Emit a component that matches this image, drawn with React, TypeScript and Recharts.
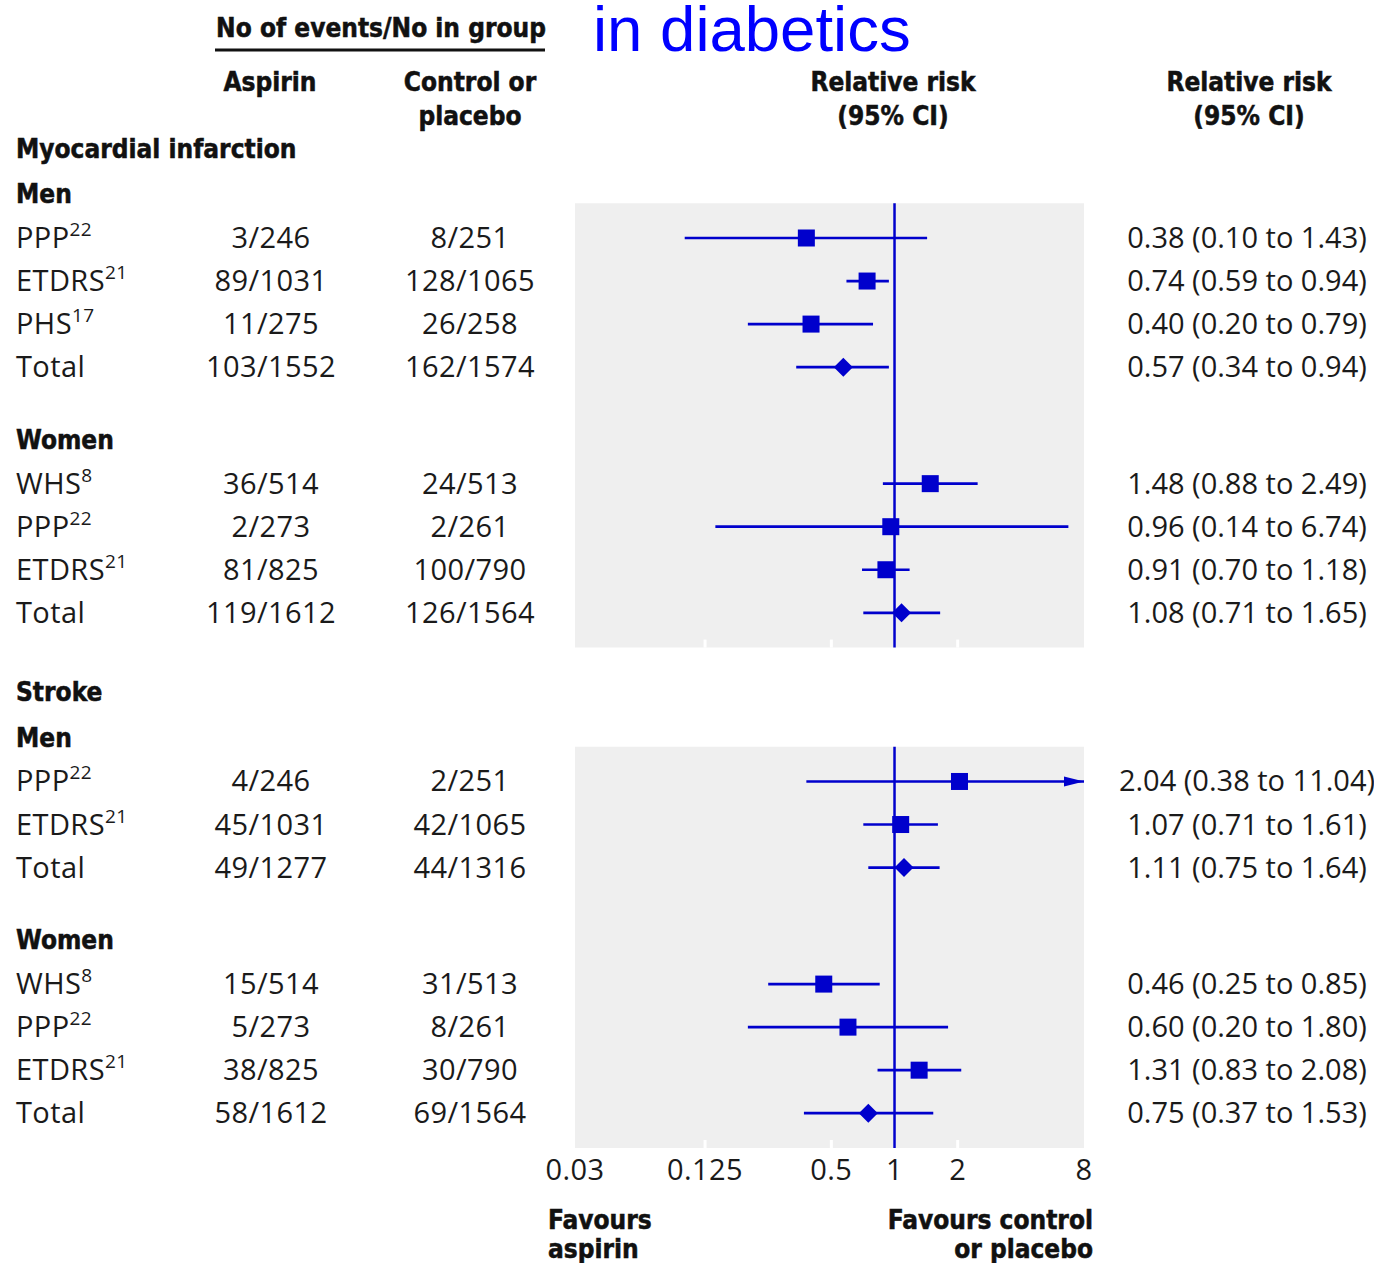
import React from 'react';
import { ComposedChart, XAxis, YAxis, Scatter, ReferenceArea, ReferenceLine } from 'recharts';

// ---------- data ----------
const sectionTitles = ['Myocardial infarction', 'Stroke'];
const subgroupTitles = ['Men', 'Women'];
const studyNames = ['PPP', 'ETDRS', 'PHS', 'Total', 'WHS', 'PPP', 'ETDRS', 'Total', 'PPP', 'ETDRS', 'Total', 'WHS', 'PPP', 'ETDRS', 'Total'];
const studyRefs = ['22', '21', '17', '', '8', '22', '21', '', '22', '21', '', '8', '22', '21', ''];
const studySection = [0, 0, 0, 0, 0, 0, 0, 0, 1, 1, 1, 1, 1, 1, 1];
const studySubgroup = [0, 0, 0, 0, 1, 1, 1, 1, 0, 0, 0, 1, 1, 1, 1];
const aspirinEvents = ['3/246', '89/1031', '11/275', '103/1552', '36/514', '2/273', '81/825', '119/1612', '4/246', '45/1031', '49/1277', '15/514', '5/273', '38/825', '58/1612'];
const controlEvents = ['8/251', '128/1065', '26/258', '162/1574', '24/513', '2/261', '100/790', '126/1564', '2/251', '42/1065', '44/1316', '31/513', '8/261', '30/790', '69/1564'];
const relativeRisk = [0.38, 0.74, 0.40, 0.57, 1.48, 0.96, 0.91, 1.08, 2.04, 1.07, 1.11, 0.46, 0.60, 1.31, 0.75];
const lowerCI = [0.10, 0.59, 0.20, 0.34, 0.88, 0.14, 0.70, 0.71, 0.38, 0.71, 0.75, 0.25, 0.20, 0.83, 0.37];
const upperCI = [1.43, 0.94, 0.79, 0.94, 2.49, 6.74, 1.18, 1.65, 11.04, 1.61, 1.64, 0.85, 1.80, 2.08, 1.53];
const xTicks = [0.03, 0.125, 0.5, 1, 2, 8];
const xDomain = [0.03, 8];

// ---------- layout ----------
const W = 1374;
const H = 1263;
const BLUE = '#0000cc';
const TEXT = '#1a1a1a';
const BOLD_COLOR = '#111';
const BODY_FONT = "'Open Sans', 'DejaVu Sans', sans-serif";
const BOLD_FONT = "'DejaVu Sans Condensed', 'DejaVu Sans', sans-serif";
const BODY_SIZE = 29;
const BODY_SPACING = 0.4;
const BOLD_SIZE = 26;

const STEP_SECTION_SUB = 1.04;
const STEP_SUB_ROW = 1.03;
const STEP_ROW = 0.99;
const STEP_GROUP_SUB = 1.65;
const STEP_GROUP_SECTION = 1.81;
const PANEL_PAD = 0.8;

type Row = { kind: 'section' | 'sub' | 'study'; label: string; y: number; idx: number };
const rows: Row[] = [];
const panels: { top: number; bottom: number }[] = [];
(() => {
  let last = 0;
  let prevSec = -1;
  let prevSub = -1;
  for (let i = 0; i < studyNames.length; i++) {
    const s = studySection[i];
    const g = studySubgroup[i];
    if (s !== prevSec) {
      const ys = prevSec < 0 ? 0 : last + STEP_GROUP_SECTION;
      rows.push({ kind: 'section', label: sectionTitles[s], y: ys, idx: -1 });
      const yg = ys + STEP_SECTION_SUB;
      rows.push({ kind: 'sub', label: subgroupTitles[g], y: yg, idx: -1 });
      last = yg + STEP_SUB_ROW - STEP_ROW;
      panels.push({ top: yg + STEP_SUB_ROW - PANEL_PAD, bottom: 0 });
      prevSec = s;
      prevSub = g;
    } else if (g !== prevSub) {
      const yg = last + STEP_GROUP_SUB;
      rows.push({ kind: 'sub', label: subgroupTitles[g], y: yg, idx: -1 });
      last = yg + STEP_SUB_ROW - STEP_ROW;
      prevSub = g;
    }
    const y = last + STEP_ROW;
    rows.push({ kind: 'study', label: studyNames[i], y, idx: i });
    panels[panels.length - 1].bottom = y + PANEL_PAD;
    last = y;
  }
})();

const Y0_PX = 148;
const PLOT_BOTTOM_PX = 1148;
const X_AXIS_H = 30;
const Y_MAX = panels[panels.length - 1].bottom;
const Y_MIN = -2;
const UNIT = (PLOT_BOTTOM_PX - Y0_PX) / Y_MAX;
const TOP_MARGIN = Y0_PX + Y_MIN * UNIT;
const TICK_MARK = 8 / UNIT;

const studyRows = rows.filter((r) => r.kind === 'study');
const squarePoints = studyRows
  .filter((r) => studyNames[r.idx] !== 'Total')
  .map((r) => ({ rr: relativeRisk[r.idx], y: r.y }));
const diamondPoints = studyRows
  .filter((r) => studyNames[r.idx] === 'Total')
  .map((r) => ({ rr: relativeRisk[r.idx], y: r.y }));
const arrowPoints = studyRows
  .filter((r) => upperCI[r.idx] > xDomain[1])
  .map((r) => ({ rr: xDomain[1], y: r.y }));

const fmt = (v: number) => v.toFixed(2);

const findRow = (v: number) => rows.find((r) => Math.abs(r.y - v) < 1e-6);

const bodyProps = {
  fontFamily: BODY_FONT,
  fontSize: BODY_SIZE,
  fill: TEXT,
  letterSpacing: BODY_SPACING,
};

const boldProps = {
  fontFamily: BOLD_FONT,
  fontWeight: 'bold' as const,
  fontSize: BOLD_SIZE,
  fill: BOLD_COLOR,
  stroke: BOLD_COLOR,
  strokeWidth: 0.5,
  style: { fontStretch: 'condensed' as const },
};

const LeftTick = (props: any) => {
  const row = findRow(props.payload?.value);
  if (!row) return null;
  const by = props.y + 10;
  if (row.kind !== 'study') {
    return (
      <text x={16} y={by} {...boldProps}>
        {row.label}
      </text>
    );
  }
  const i = row.idx;
  return (
    <g>
      <text x={16} y={by} {...bodyProps}>
        {studyNames[i]}
        {studyRefs[i] ? (
          <tspan dy={-12} fontSize={19}>
            {studyRefs[i]}
          </tspan>
        ) : null}
      </text>
      <text x={271} y={by} textAnchor="middle" {...bodyProps}>
        {aspirinEvents[i]}
      </text>
      <text x={470} y={by} textAnchor="middle" {...bodyProps}>
        {controlEvents[i]}
      </text>
    </g>
  );
};

const RightTick = (props: any) => {
  const row = findRow(props.payload?.value);
  if (!row || row.kind !== 'study') return null;
  const i = row.idx;
  return (
    <text x={1247} y={props.y + 10} textAnchor="middle" {...bodyProps} letterSpacing={0}>
      {`${fmt(relativeRisk[i])} (${fmt(lowerCI[i])} to ${fmt(upperCI[i])})`}
    </text>
  );
};

const XTick = (props: any) => (
  <text x={props.x} y={PLOT_BOTTOM_PX + 32} textAnchor="middle" {...bodyProps}>
    {String(props.payload.value)}
  </text>
);

const Square = (props: any) => (
  <rect x={props.cx - 8.5} y={props.cy - 8.5} width={17} height={17} fill={BLUE} />
);
const Diamond = (props: any) => (
  <polygon
    points={`${props.cx - 9.5},${props.cy} ${props.cx},${props.cy - 9.5} ${props.cx + 9.5},${props.cy} ${props.cx},${props.cy + 9.5}`}
    fill={BLUE}
  />
);
const Arrow = (props: any) => (
  <polygon
    points={`${props.cx},${props.cy} ${props.cx - 20},${props.cy - 5} ${props.cx - 20},${props.cy + 5}`}
    fill={BLUE}
  />
);

const boldText = (x: number, y: number, s: string, anchor: 'start' | 'middle' | 'end' = 'middle') => (
  <text x={x} y={y} textAnchor={anchor} {...boldProps}>
    {s}
  </text>
);

export default function App() {
  const labelTicks = rows.map((r) => r.y);
  const rrTicks = studyRows.map((r) => r.y);
  return (
    <div style={{ position: 'absolute', left: 0, top: 0, width: W, height: H, background: '#fff' }}>
      <ComposedChart
        width={W}
        height={H}
        margin={{ top: TOP_MARGIN, right: 0, bottom: H - PLOT_BOTTOM_PX - X_AXIS_H, left: 0 }}
      >
        <XAxis
          type="number"
          dataKey="rr"
          scale="log"
          domain={xDomain}
          ticks={xTicks}
          interval={0}
          height={X_AXIS_H}
          allowDataOverflow
          axisLine={false}
          tickLine={false}
          tick={XTick}
        />
        <YAxis
          yAxisId="left"
          type="number"
          dataKey="y"
          domain={[Y_MIN, Y_MAX]}
          reversed
          allowDataOverflow
          ticks={labelTicks}
          interval={0}
          width={575}
          axisLine={false}
          tickLine={false}
          tick={LeftTick}
        />
        <YAxis
          yAxisId="right"
          orientation="right"
          type="number"
          dataKey="y"
          domain={[Y_MIN, Y_MAX]}
          reversed
          allowDataOverflow
          ticks={rrTicks}
          interval={0}
          width={W - 1084}
          axisLine={false}
          tickLine={false}
          tick={RightTick}
        />
        {panels.map((p, k) => (
          <ReferenceArea
            key={`bg${k}`}
            yAxisId="left"
            x1={xDomain[0]}
            x2={xDomain[1]}
            y1={p.top}
            y2={p.bottom}
            fill="#efefef"
            fillOpacity={1}
            stroke="none"
            ifOverflow="visible"
          />
        ))}
        {panels.flatMap((p, k) =>
          xTicks.slice(1, -1).map((t) => (
            <ReferenceLine
              key={`tm${k}-${t}`}
              yAxisId="left"
              segment={[
                { x: t, y: p.bottom - TICK_MARK },
                { x: t, y: p.bottom },
              ]}
              stroke="#ffffff"
              strokeWidth={3}
              ifOverflow="visible"
            />
          ))
        )}
        {panels.map((p, k) => (
          <ReferenceLine
            key={`one${k}`}
            yAxisId="left"
            segment={[
              { x: 1, y: p.top },
              { x: 1, y: p.bottom },
            ]}
            stroke={BLUE}
            strokeWidth={2.5}
            ifOverflow="visible"
          />
        ))}
        {studyRows.map((r) => (
          <ReferenceLine
            key={`ci${r.idx}`}
            yAxisId="left"
            segment={[
              { x: lowerCI[r.idx], y: r.y },
              { x: Math.min(upperCI[r.idx], xDomain[1]), y: r.y },
            ]}
            stroke={BLUE}
            strokeWidth={2.7}
            ifOverflow="visible"
          />
        ))}
        <Scatter yAxisId="left" data={squarePoints} dataKey="y" shape={Square} isAnimationActive={false} />
        <Scatter yAxisId="left" data={diamondPoints} dataKey="y" shape={Diamond} isAnimationActive={false} />
        <Scatter yAxisId="left" data={arrowPoints} dataKey="y" shape={Arrow} isAnimationActive={false} />
      </ComposedChart>
      <svg width={W} height={H} style={{ position: 'absolute', left: 0, top: 0, pointerEvents: 'none' }}>
        <text x={593} y={51} fontFamily="'Liberation Sans', Arial, sans-serif" fontSize={63.5} fill="#0000ff">
          in diabetics
        </text>
        {boldText(381, 37, 'No of events/No in group')}
        <line x1={215} x2={545} y1={50} y2={50} stroke={BOLD_COLOR} strokeWidth={3} />
        {boldText(270, 91, 'Aspirin')}
        {boldText(470, 91, 'Control or')}
        {boldText(470, 125, 'placebo')}
        {boldText(893, 91, 'Relative risk')}
        {boldText(893, 125, '(95% CI)')}
        {boldText(1249, 91, 'Relative risk')}
        {boldText(1249, 125, '(95% CI)')}
        {boldText(548, 1229, 'Favours', 'start')}
        {boldText(548, 1258, 'aspirin', 'start')}
        {boldText(1093, 1229, 'Favours control', 'end')}
        {boldText(1093, 1258, 'or placebo', 'end')}
      </svg>
    </div>
  );
}
